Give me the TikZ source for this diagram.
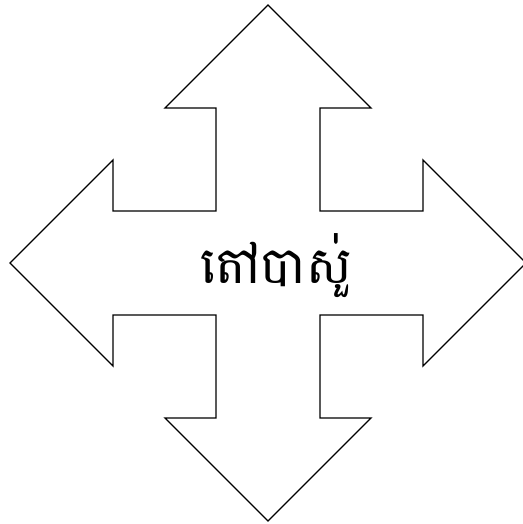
\documentclass[tikz,border=0pt]{standalone}
\usepackage{fontspec}
\newfontfamily\khmerfont[Script=Khmer]{Battambang}
\begin{document}
\begin{tikzpicture}[x=1pt,y=1pt]
\useasboundingbox (-268,-261) rectangle (254,263);
\draw[line width=1.3pt,line join=miter] (0,258) -- (103,155) -- (52,155) -- (52,52) -- (155,52) -- (155,103)
  -- (258,0) -- (155,-103) -- (155,-52) -- (52,-52) -- (52,-155) -- (103,-155)
  -- (0,-258) -- (-103,-155) -- (-52,-155) -- (-52,-52) -- (-155,-52) -- (-155,-103)
  -- (-258,0) -- (-155,103) -- (-155,52) -- (-52,52) -- (-52,155) -- (-103,155) -- cycle;
\node (name) at (8,-3) {\khmerfont\fontsize{51}{62}\selectfont តៅបាសួ់};
\end{tikzpicture}
\end{document}
